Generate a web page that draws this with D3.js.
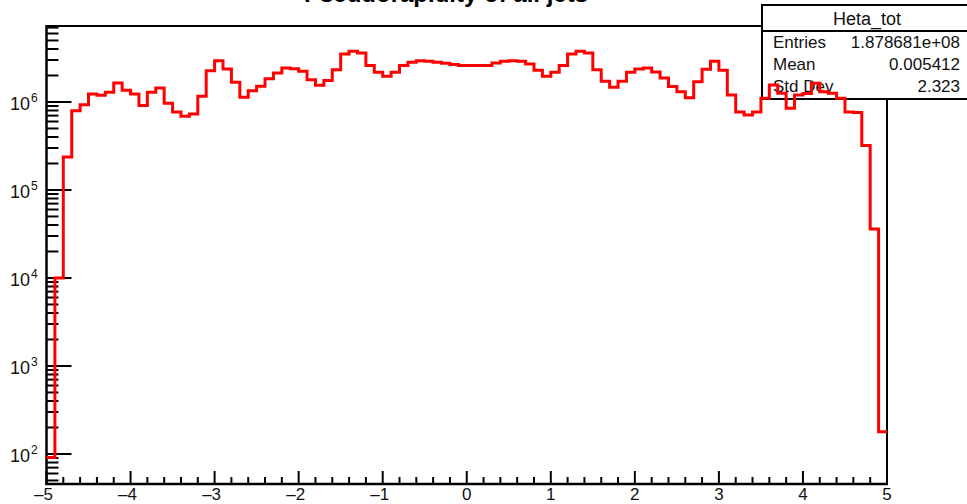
<!DOCTYPE html>
<html>
<head>
<meta charset="utf-8">
<script src="https://cdn.jsdelivr.net/npm/d3@7/dist/d3.min.js"></script>
<style>
  html, body { margin: 0; padding: 0; background: #fff; }
  svg { display: block; font-family: "Liberation Sans", Arial, Helvetica, sans-serif; }
</style>
</head>
<body>
<svg id="chart" width="967" height="504"></svg>
<script>
// Histogram binning along eta
const etaMin = -5;
const etaMax = 5;
const nBins = 100;

// Bin contents (entries per 0.1 in eta)
const binCounts = [
  91, 1.0e4, 2.37e5, 7.96e5, 9.3e5, 1.23e6, 1.19e6, 1.29e6, 1.64e6, 1.36e6,
  1.23e6, 9.1e5, 1.29e6, 1.44e6, 9.7e5, 7.7e5, 6.9e5, 7.3e5, 1.16e6, 2.27e6,
  2.95e6, 2.37e6, 1.68e6, 1.13e6, 1.34e6, 1.51e6, 1.84e6, 2.14e6, 2.43e6, 2.39e6,
  2.23e6, 1.79e6, 1.55e6, 1.75e6, 2.33e6, 3.5e6, 3.77e6, 3.6e6, 2.59e6, 2.18e6,
  1.96e6, 2.18e6, 2.59e6, 2.82e6, 2.95e6, 2.9e6, 2.82e6, 2.75e6, 2.66e6, 2.6e6,
  2.6e6, 2.6e6, 2.6e6, 2.77e6, 2.9e6, 2.95e6, 2.9e6, 2.7e6, 2.29e6, 1.96e6,
  2.18e6, 2.6e6, 3.5e6, 3.77e6, 3.6e6, 2.33e6, 1.72e6, 1.47e6, 1.72e6, 2.18e6,
  2.37e6, 2.43e6, 2.19e6, 1.87e6, 1.5e6, 1.31e6, 1.12e6, 1.7e6, 2.36e6, 2.9e6,
  2.3e6, 1.2e6, 7.7e5, 7.1e5, 7.7e5, 1.1e6, 1.56e6, 1.26e6, 8.5e5, 1.2e6,
  1.25e6, 1.63e6, 1.31e6, 1.26e6, 1.1e6, 7.7e5, 7.6e5, 3.2e5, 3.6e4, 179
];

// Axis ticks
const xTickValues = [-5, -4, -3, -2, -1, 0, 1, 2, 3, 4, 5];
const yDecades = [2, 3, 4, 5, 6];

// Statistics box
const statsTitle = "Heta_tot";
const statsLabels = ["Entries", "Mean", "Std Dev"];
const statsValues = ["1.878681e+08", "0.005412", "2.323"];

const titleText = "Pseudorapidity of all jets";

const svg = d3.select("#chart");
const frame = { left: 46.5, right: 887, top: 26, bottom: 484 };

const x = d3.scaleLinear().domain([etaMin, etaMax]).range([frame.left, frame.right]);
const y = d3.scaleLog().domain([45.6, 7.3e6]).range([frame.bottom, frame.top]);

// Title (sits at the very top of the canvas, mostly above it)
svg.append("text")
  .attr("x", 446).attr("y", 2)
  .attr("text-anchor", "middle")
  .attr("font-size", 24).attr("font-weight", "bold")
  .attr("fill", "#000")
  .text(titleText);

// Frame: top and right borders
svg.append("path")
  .attr("d", `M${frame.left},${frame.top}H${frame.right}V${frame.bottom}`)
  .attr("fill", "none").attr("stroke", "#000").attr("stroke-width", 2);

// X axis with inward ticks
const xMajorLen = 13, xMinorLen = 7;
const xMinor = d3.range(etaMin * 5, etaMax * 5 + 1).map(d => d / 5);
const gx = svg.append("g");
gx.selectAll("line.minor").data(xMinor).join("line")
  .attr("x1", d => x(d)).attr("x2", d => x(d))
  .attr("y1", frame.bottom).attr("y2", d => frame.bottom - (Number.isInteger(d) ? xMajorLen : xMinorLen))
  .attr("stroke", "#000").attr("stroke-width", 2);
gx.append("line")
  .attr("x1", frame.left - 1).attr("x2", frame.right + 1)
  .attr("y1", frame.bottom).attr("y2", frame.bottom)
  .attr("stroke", "#000").attr("stroke-width", 2.5);
gx.selectAll("text").data(xTickValues).join("text")
  .attr("x", d => x(d) - (d < 0 ? 3 : 0)).attr("y", 500)
  .attr("text-anchor", "middle")
  .attr("font-size", 17).attr("fill", "#111")
  .text(d => d < 0 ? "\u2013" + Math.abs(d) : String(d));

// Y axis (log) with decade and sub-decade ticks
const yMajorLen = 25, yMinorLen = 12;
const [yLo, yHi] = y.domain();
const yMinorVals = [];
for (let e = 1; e <= 6; e++) {
  for (let m = 1; m <= 9; m++) {
    const v = m * Math.pow(10, e);
    if (v >= yLo && v <= yHi) yMinorVals.push({ v, major: m === 1 });
  }
}
const gy = svg.append("g");
gy.selectAll("line").data(yMinorVals).join("line")
  .attr("x1", frame.left).attr("x2", d => frame.left + (d.major ? yMajorLen : yMinorLen))
  .attr("y1", d => y(d.v)).attr("y2", d => y(d.v))
  .attr("stroke", "#000").attr("stroke-width", 2);
gy.append("line")
  .attr("x1", frame.left).attr("x2", frame.left)
  .attr("y1", frame.top - 1).attr("y2", frame.bottom + 1)
  .attr("stroke", "#000").attr("stroke-width", 2.5);
const yl = gy.selectAll("text").data(yDecades).join("text")
  .attr("x", 10).attr("y", d => y(Math.pow(10, d)) + 8)
  .attr("text-anchor", "start")
  .attr("font-size", 18).attr("fill", "#111");
yl.append("tspan").text("10");
yl.append("tspan").attr("font-size", 12).attr("dy", -8).attr("dx", 1).text(d => d);

// Statistics box
const box = { x: 762, y: 5, w: 215, h: 94, head: 26 };
const gs = svg.append("g");
gs.append("rect")
  .attr("x", box.x).attr("y", box.y).attr("width", box.w).attr("height", box.h)
  .attr("fill", "#fff").attr("stroke", "#000").attr("stroke-width", 2);
gs.append("line")
  .attr("x1", box.x).attr("x2", box.x + box.w)
  .attr("y1", box.y + box.head).attr("y2", box.y + box.head)
  .attr("stroke", "#000").attr("stroke-width", 2);
gs.append("text")
  .attr("x", 867).attr("y", 25)
  .attr("text-anchor", "middle").attr("font-size", 18).attr("fill", "#111")
  .text(statsTitle);
statsLabels.forEach((lab, i) => {
  const by = 48 + i * 22;
  gs.append("text").attr("x", 773).attr("y", by)
    .attr("font-size", 17).attr("fill", "#111").text(lab);
  gs.append("text").attr("x", 960).attr("y", by)
    .attr("text-anchor", "end").attr("font-size", 17).attr("fill", "#111").text(statsValues[i]);
});

// Histogram outline as a step line
const pts = [];
binCounts.forEach((c, i) => {
  const lo = etaMin + (etaMax - etaMin) * i / nBins;
  const hi = etaMin + (etaMax - etaMin) * (i + 1) / nBins;
  pts.push([x(lo), y(c)], [x(hi), y(c)]);
});
svg.append("path")
  .attr("d", d3.line()(pts))
  .attr("fill", "none")
  .attr("stroke", "#ff0000")
  .attr("stroke-width", 3)
  .attr("stroke-linejoin", "miter");
</script>
</body>
</html>
